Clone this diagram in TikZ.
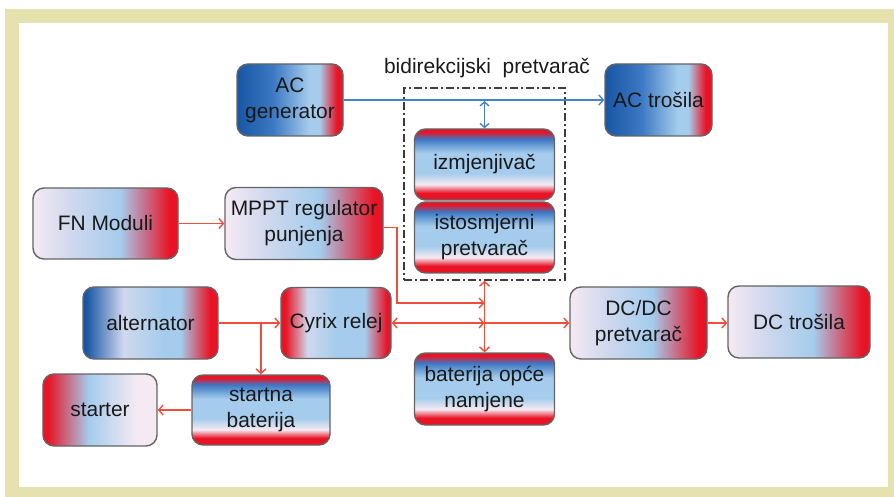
\documentclass[tikz,border=0pt]{standalone}
\usepackage{fontspec}
\setmainfont{Liberation Sans}
\usetikzlibrary{arrows.meta,fit,calc}
\definecolor{dkb}{RGB}{24,86,164}
\definecolor{mdb}{RGB}{60,120,195}
\definecolor{ltb}{RGB}{165,204,236}
\definecolor{pal}{RGB}{245,234,243}
\definecolor{lav}{RGB}{208,216,238}
\definecolor{rd}{RGB}{232,20,38}
\definecolor{beige}{RGB}{230,226,176}
\definecolor{arr}{RGB}{240,78,60}
\definecolor{bl}{RGB}{70,130,195}
\definecolor{txt}{RGB}{25,25,25}
\definecolor{boxline}{RGB}{100,100,100}
\definecolor{dashc}{RGB}{60,60,60}
% horizontal shadings: box spans 25bp..75bp
\pgfdeclarehorizontalshading{gBR}{100bp}{color(0bp)=(dkb); color(25bp)=(dkb); color(42bp)=(mdb); color(59bp)=(ltb); color(64bp)=(ltb); color(72bp)=(rd); color(100bp)=(rd)}
\pgfdeclarehorizontalshading{gAlt}{100bp}{color(0bp)=(dkb); color(26bp)=(dkb); color(40bp)=(lav); color(55bp)=(ltb); color(61bp)=(ltb); color(72bp)=(rd); color(100bp)=(rd)}
\pgfdeclarehorizontalshading{gPR}{100bp}{color(0bp)=(pal); color(25bp)=(pal); color(38bp)=(lav); color(55bp)=(ltb); color(72bp)=(rd); color(100bp)=(rd)}
\pgfdeclarehorizontalshading{gRR}{100bp}{color(0bp)=(rd); color(27bp)=(rd); color(37bp)=(lav); color(50bp)=(ltb); color(63bp)=(ltb); color(73bp)=(rd); color(100bp)=(rd)}
\pgfdeclarehorizontalshading{gRP}{100bp}{color(0bp)=(rd); color(27bp)=(rd); color(45bp)=(ltb); color(66bp)=(pal); color(100bp)=(pal)}
% vertical shading: bottom 25bp .. top 75bp
\pgfdeclareverticalshading{gV}{100bp}{color(0bp)=(rd); color(30bp)=(rd); color(36bp)=(pal); color(44bp)=(ltb); color(58bp)=(ltb); color(68bp)=(mdb); color(73bp)=(rd); color(100bp)=(rd)}
\begin{document}
\begin{tikzpicture}[x=1bp,y=-1bp,
  box/.style={rounded corners=11bp, draw=boxline, line width=1.4bp, inner sep=0pt,
    align=center, text=txt, font=\fontsize{21}{26}\selectfont},
  ra/.style={draw=arr, line width=1.4bp, -{Straight Barb[length=4.5bp,width=10bp]}},
  rab/.style={draw=arr, line width=1.4bp, {Straight Barb[length=4.5bp,width=10bp]}-{Straight Barb[length=4.5bp,width=10bp]}},
  bla/.style={draw=bl, line width=1.4bp, -{Straight Barb[length=4.5bp,width=10bp]}},
  blab/.style={draw=bl, line width=1.4bp, {Straight Barb[length=4bp,width=9bp]}-{Straight Barb[length=4bp,width=9bp]}}
]
\useasboundingbox (0,0) rectangle (894,497);
\fill[white] (0,0) rectangle (894,497);
\fill[beige] (5,9) rectangle (894,497);
\fill[white] (19,23) rectangle (888,487);

\node[box, shading=gBR, minimum width=106bp, minimum height=72bp] (acgen) at (290,100) {AC\\generator};
\node[box, shading=gBR, minimum width=107bp, minimum height=72bp] (actr) at (658.5,100) {AC trošila};
\node[box, shading=gV, minimum width=140bp, minimum height=71bp] (izm) at (484.5,164.5) {izmjenjivač};
\node[box, shading=gV, minimum width=140bp, minimum height=71bp] (isto) at (484.5,237.5) {istosmjerni\\pretvarač};
\node[draw=dashc, line width=1.5bp, dash pattern=on 8bp off 3bp on 2bp off 3bp,
  fit={(404,88) (565,280)}, inner sep=0pt] (bidir) {};
\node[text=txt, font=\fontsize{21}{26}\selectfont] (title) at (487,68) {bidirekcijski~ pretvarač};

\node[box, shading=gPR, minimum width=145bp, minimum height=71bp] (fn) at (105.5,223.5) {FN Moduli};
\node[box, shading=gPR, minimum width=158bp, minimum height=72bp] (mppt) at (304,223.5) {MPPT regulator\\punjenja};
\node[box, shading=gAlt, minimum width=135bp, minimum height=72bp] (alt) at (150.5,323) {alternator};
\node[box, shading=gRR, minimum width=110bp, minimum height=71bp] (cyrix) at (336,323) {Cyrix relej};
\node[box, shading=gV, minimum width=138bp, minimum height=70bp] (startna) at (261,410) {startna\\baterija};
\node[box, shading=gRP, minimum width=114bp, minimum height=72bp] (starter) at (100,410) {starter};
\node[box, shading=gV, minimum width=140bp, minimum height=72bp] (bat) at (484.5,389) {baterija opće\\namjene};
\node[box, shading=gPR, minimum width=137bp, minimum height=72bp] (dcdc) at (638.5,323) {DC/DC\\pretvarač};
\node[box, shading=gPR, minimum width=142bp, minimum height=72bp] (dctr) at (799,322) {DC trošila};

% AC bus
\coordinate (acj) at (484.5,101);
\draw[bla] (acgen.east) -- (actr.west);
\draw[blab] (acj) -- (izm.north);

% DC side
\coordinate (mc) at (397,303);
\coordinate (b1) at (484.5,303);
\coordinate (b2) at (484.5,323);
\coordinate (aj) at (261,323);
\draw[ra] (fn.east) -- (mppt.west);
\draw[ra] ([yshift=-4bp]mppt.east) -| (mc) -- (b1);
\draw[rab] (bidir.south) -- (bat.north);
\draw[rab] (cyrix.east) -- (b2);
\draw[ra] (b2) -- (dcdc.west);
\draw[ra] (alt.east) -- (cyrix.west);
\draw[ra] (aj) -- (startna.north);
\draw[ra] (startna.west) -- (starter.east);
\draw[ra] (dcdc.east) -- (dcdc.east -| dctr.west);
\end{tikzpicture}
\end{document}
